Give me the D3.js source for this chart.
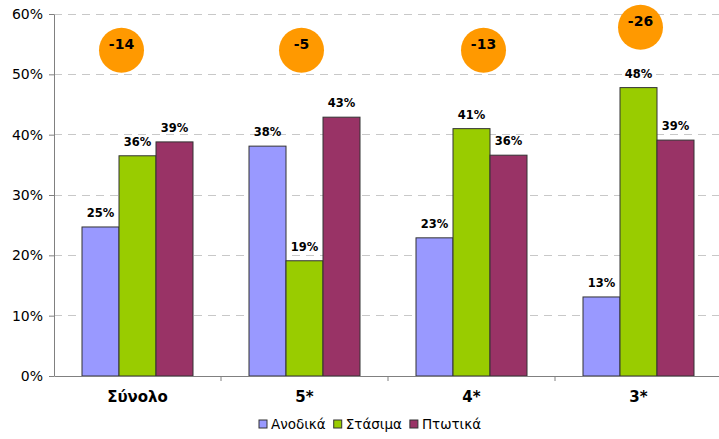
<!DOCTYPE html>
<html><head><meta charset="utf-8">
<script src="https://cdn.jsdelivr.net/npm/d3@7/dist/d3.min.js"></script>
<style>body{margin:0;background:#fff}svg{display:block}</style>
</head><body>
<svg id="c" width="719" height="439"></svg>
<script>
const categories = ["Σύνολο", "5*", "4*", "3*"];
const seriesNames = ["Ανοδικά", "Στάσιμα", "Πτωτικά"];
const anodika = [24.7, 38.1, 22.9, 13.1];
const stasima = [36.5, 19.1, 41.0, 47.8];
const ptotika = [38.8, 42.9, 36.6, 39.1];
const labelsAnodika = ["25%", "38%", "23%", "13%"];
const labelsStasima = ["36%", "19%", "41%", "48%"];
const labelsPtotika = ["39%", "43%", "36%", "39%"];
const balance = ["-14", "-5", "-13", "-26"];
const yTicks = [0, 10, 20, 30, 40, 50, 60];

const colors = ["#9999ff", "#99cc00", "#993366"];
const seriesValues = [anodika, stasima, ptotika];
const seriesLabels = [labelsAnodika, labelsStasima, labelsPtotika];

const svg = d3.select("#c");
const m = {l: 54, t: 14, r: 722, b: 376};
const x = d3.scaleBand().domain(categories).range([m.l, m.r]);
const y = d3.scaleLinear().domain([0, 60]).range([m.b, m.t]);
const barW = 37;
const inner = d3.scaleBand().domain(seriesNames).range([0, barW * 3]);
const offset = (x.bandwidth() - barW * 3) / 2;

// gridlines
svg.append("g").selectAll("line").data(yTicks.filter(d => d > 0)).join("line")
  .attr("x1", m.l).attr("x2", 719).attr("y1", d => y(d)).attr("y2", d => y(d))
  .attr("stroke", "#c8c8c8").attr("stroke-dasharray", "8,6").attr("stroke-width", 1)
  .attr("shape-rendering", "crispEdges");

// y axis
const yAxis = svg.append("g").attr("transform", `translate(${m.l},0)`)
  .call(d3.axisLeft(y).tickValues(yTicks).tickFormat(d => d + "%").tickSize(5).tickSizeOuter(0));
yAxis.select(".domain").attr("stroke", "#808080");
yAxis.selectAll(".tick line").attr("stroke", "#808080");
yAxis.selectAll("text").attr("font-family", "DejaVu Sans").attr("font-size", 14).attr("fill", "#000").attr("dx", -3);

// bars
categories.forEach((c, ci) => {
  seriesNames.forEach((s, si) => {
    const v = seriesValues[si][ci];
    const bx = x(c) + offset + inner(s);
    svg.append("rect").attr("x", bx).attr("y", y(v)).attr("width", barW).attr("height", y(0) - y(v))
      .attr("fill", colors[si]).attr("stroke", "#333").attr("stroke-width", 1);
    svg.append("text").attr("x", bx + barW / 2).attr("y", y(v) - 10).attr("text-anchor", "middle")
      .attr("font-family", "DejaVu Sans").attr("font-weight", "bold").attr("font-size", 11.5)
      .text(seriesLabels[si][ci]);
  });
});

// x axis
const xAxis = svg.append("g").attr("transform", `translate(0,${m.b})`)
  .call(d3.axisBottom(x).tickSize(0).tickSizeOuter(0));
xAxis.select(".domain").attr("stroke", "#808080");
xAxis.selectAll("text").attr("font-family", "DejaVu Sans").attr("font-weight", "bold").attr("font-size", 15)
  .attr("fill", "#000").attr("dy", 0).attr("y", 26);
svg.append("g").selectAll("line").data(categories.slice(1)).join("line")
  .attr("x1", d => x(d)).attr("x2", d => x(d)).attr("y1", m.b).attr("y2", m.b + 5)
  .attr("stroke", "#808080");

// balance circles
const circleDx = [-16, -3, 12, 2];
const circleLevel = [54, 54, 54, 57.8];
categories.forEach((c, ci) => {
  const cx = x(c) + x.bandwidth() / 2 + circleDx[ci];
  const cy = y(circleLevel[ci]);
  svg.append("circle").attr("cx", cx).attr("cy", cy).attr("r", 22.5).attr("fill", "#ff9900");
  svg.append("text").attr("x", cx).attr("y", cy - 1).attr("text-anchor", "middle")
    .attr("font-family", "DejaVu Sans").attr("font-weight", "bold").attr("font-size", 14)
    .text(balance[ci]);
});

// legend
const lg = svg.append("g").attr("transform", "translate(259,429)");
let lx = 0;
seriesNames.forEach((s, si) => {
  lg.append("rect").attr("x", lx).attr("y", -9).attr("width", 8).attr("height", 8)
    .attr("fill", colors[si]).attr("stroke", "#333");
  const t = lg.append("text").attr("x", lx + 12).attr("y", 0).attr("font-family", "DejaVu Sans")
    .attr("font-size", 13.5).text(s);
  lx += 12 + t.node().getComputedTextLength() + 8;
});
</script>
</body></html>
